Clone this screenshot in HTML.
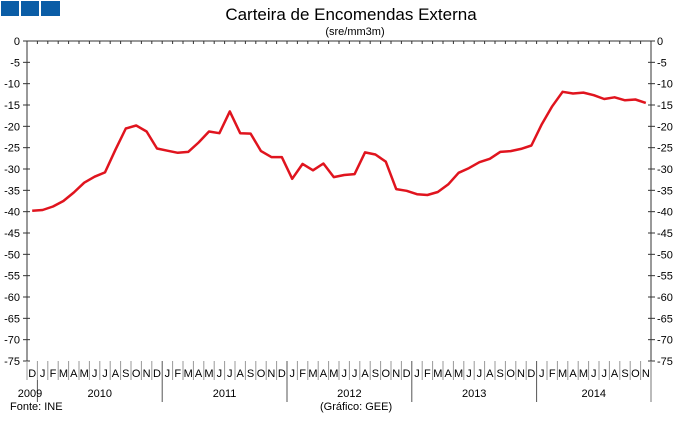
<!DOCTYPE html>
<html><head><meta charset="utf-8"><style>
body{margin:0;background:#fff;}
svg text{font-family:"Liberation Sans",Arial,sans-serif;}
</style></head><body>
<svg id="s" width="680" height="419" xmlns="http://www.w3.org/2000/svg">
<rect x="0" y="0" width="680" height="419" fill="#fff"/>
<rect x="1" y="1" width="18" height="15" fill="#0b5da6"/>
<rect x="21" y="1" width="18" height="15" fill="#0b5da6"/>
<rect x="41" y="1" width="19" height="15" fill="#0b5da6"/>
<text x="351" y="20" font-size="17" text-anchor="middle" fill="#000">Carteira de Encomendas Externa</text>
<text x="355" y="35" font-size="11" text-anchor="middle" fill="#000">(sre/mm3m)</text>
<text x="10" y="410" font-size="11">Fonte: INE</text>
<text x="320" y="410" font-size="11">(Gráfico: GEE)</text>
<g id="g"></g>
</svg>
<script>
var g=document.getElementById('g'),h='';
var L=27,R=651,T=41,B=361;
function Y(v){return T+(-v)/75*(B-T);}
h+='<line x1="'+L+'" y1="'+T+'" x2="'+L+'" y2="'+B+'" stroke="#333"/>';
h+='<line x1="'+R+'" y1="'+T+'" x2="'+R+'" y2="'+B+'" stroke="#333"/>';
h+='<line x1="'+L+'" y1="'+T+'" x2="'+R+'" y2="'+T+'" stroke="#333"/>';
for(var v=0;v>=-75;v-=5){var y=Y(v);
h+='<line x1="'+(L-4)+'" y1="'+y+'" x2="'+(L+3)+'" y2="'+y+'" stroke="#333"/>';
h+='<line x1="'+(R-3)+'" y1="'+y+'" x2="'+(R+4)+'" y2="'+y+'" stroke="#333"/>';
h+='<text x="20" y="'+(y+4)+'" font-size="11" text-anchor="end">'+v+'</text>';
h+='<text x="657" y="'+(y+4)+'" font-size="11">'+v+'</text>';}
var w=(R-L)/60;
var m="DJFMAMJJASONDJFMAMJJASONDJFMAMJJASONDJFMAMJJASONDJFMAMJJASON";
for(var i=0;i<60;i++){var x=L+w*i;
h+='<line x1="'+x.toFixed(1)+'" y1="'+T+'" x2="'+x.toFixed(1)+'" y2="'+(T+3)+'" stroke="#333"/>';
var yr=(i%12==1&&i>1);
h+='<line x1="'+x.toFixed(1)+'" y1="'+B+'" x2="'+x.toFixed(1)+'" y2="'+(yr?402:380)+'" stroke="'+(yr?'#555':'#999')+'"/>';
h+='<text x="'+(x+w/2).toFixed(1)+'" y="377" font-size="11" text-anchor="middle">'+m[i]+'</text>';}
h+='<line x1="'+(L+w)+'" y1="380" x2="'+(L+w)+'" y2="402" stroke="#555"/>';
h+='<line x1="'+R+'" y1="'+B+'" x2="'+R+'" y2="402" stroke="#777"/>';
h+='<text x="30" y="397" font-size="11" text-anchor="middle">2009</text>';
var yrs=['2010','2011','2012','2013','2014'];
for(var k=0;k<5;k++){var c=L+w*(1+12*k+(k==4?5.5:6));h+='<text x="'+c.toFixed(1)+'" y="397" font-size="11" text-anchor="middle">'+yrs[k]+'</text>';}
var d=[-39.8,-39.6,-38.8,-37.5,-35.5,-33.2,-31.8,-30.8,-25.5,-20.5,-19.8,-21.2,-25.2,-25.7,-26.2,-26,-23.8,-21.2,-21.6,-16.5,-21.6,-21.7,-25.8,-27.2,-27.2,-32.3,-28.8,-30.3,-28.7,-31.9,-31.4,-31.2,-26.1,-26.6,-28.3,-34.7,-35.1,-35.9,-36.1,-35.4,-33.6,-30.9,-29.8,-28.4,-27.6,-26,-25.8,-25.3,-24.5,-19.5,-15.3,-11.9,-12.3,-12.1,-12.7,-13.6,-13.2,-13.9,-13.7,-14.5];
var p=d.map(function(v,i){return (L+w*(i+0.5)).toFixed(1)+','+Y(v).toFixed(1);}).join(' ');
h+='<polyline points="'+p+'" fill="none" stroke="#e0141e" stroke-width="2.5" stroke-linejoin="round"/>';
g.innerHTML=h;
</script>
</body></html>
